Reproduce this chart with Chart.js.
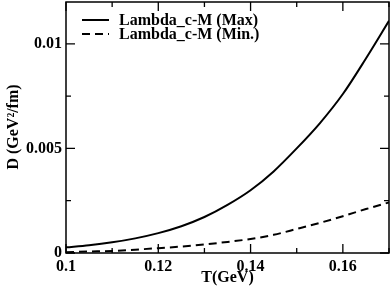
<!DOCTYPE html>
<html>
<head>
<meta charset="utf-8">
<script src="https://cdn.jsdelivr.net/npm/chart.js@4.4.1/dist/chart.umd.min.js"></script>
<style>
  html, body { margin: 0; padding: 0; background: #fff; }
  .chart-wrapper { width: 391px; height: 286px; }
</style>
</head>
<body>
<div class="chart-wrapper"><canvas id="chart"></canvas></div>
<script>
// temperatures (GeV)
const temps = [0.10, 0.105, 0.11, 0.115, 0.12, 0.125, 0.13, 0.135, 0.14, 0.145, 0.15, 0.155, 0.16, 0.165, 0.17];
// D (GeV^2/fm)
const maxValues = [0.00027, 0.00037, 0.00051, 0.0007, 0.00095, 0.00128, 0.00172, 0.0023, 0.003, 0.0039, 0.005, 0.0062, 0.0076, 0.0093, 0.0111];
const minValues = [0.00004, 0.00007, 0.0001, 0.00016, 0.00023, 0.00031, 0.00041, 0.00053, 0.00067, 0.00087, 0.00115, 0.00144, 0.00176, 0.0021, 0.00242];
const seriesLabels = ['Lambda_c-M (Max)', 'Lambda_c-M (Min.)'];
const xTickLabels = [0.1, 0.12, 0.14, 0.16];
const yTickLabels = [0, 0.005, 0.01];

const FONT = 'bold 16px "Liberation Serif", "DejaVu Serif", serif';

// frame, inward ticks on all four sides, legend, axis titles
const framePlugin = {
  id: 'frame',
  afterDraw(chart) {
    const { ctx, chartArea: a, scales } = chart;
    ctx.save();
    ctx.strokeStyle = '#000';
    ctx.lineWidth = 1.5;
    ctx.strokeRect(a.left, a.top, a.right - a.left, a.bottom - a.top);

    ctx.lineWidth = 1.3;
    ctx.beginPath();
    for (let i = 0; i <= 7; i++) {
      const v = 0.1 + i * 0.01;
      const px = scales.x.getPixelForValue(v);
      const len = i % 2 === 0 ? 9 : 5;
      ctx.moveTo(px, a.bottom); ctx.lineTo(px, a.bottom - len);
      ctx.moveTo(px, a.top); ctx.lineTo(px, a.top + len);
    }
    for (let i = 0; i <= 4; i++) {
      const v = i * 0.0025;
      const py = scales.y.getPixelForValue(v);
      const len = i % 2 === 0 ? 9 : 5;
      ctx.moveTo(a.left, py); ctx.lineTo(a.left + len, py);
      ctx.moveTo(a.right, py); ctx.lineTo(a.right - len, py);
    }
    ctx.stroke();

    // legend
    ctx.font = FONT;
    ctx.fillStyle = '#000';
    ctx.textBaseline = 'middle';
    chart.data.datasets.forEach((ds, i) => {
      const y = 20 + i * 14;
      ctx.lineWidth = 2;
      ctx.setLineDash(ds.borderDash || []);
      ctx.beginPath();
      ctx.moveTo(82, y); ctx.lineTo(109, y);
      ctx.stroke();
      ctx.setLineDash([]);
      ctx.fillText(ds.label, 119, y + 1);
    });

    // axis titles
    ctx.textAlign = 'center';
    ctx.fillText('T(GeV)', (a.left + a.right) / 2, 278);
    ctx.translate(14, 127);
    ctx.rotate(-Math.PI / 2);
    ctx.fillText('D (GeV\u00B2/fm)', 0, 0);
    ctx.restore();
  }
};

const near = (v, list) => list.some(t => Math.abs(t - v) < 1e-9);

new Chart(document.getElementById('chart'), {
  type: 'line',
  data: {
    datasets: [
      {
        label: seriesLabels[0],
        data: temps.map((t, i) => ({ x: t, y: maxValues[i] })),
        borderColor: '#000',
        borderWidth: 2,
        pointRadius: 0,
        cubicInterpolationMode: 'monotone',
        fill: false
      },
      {
        label: seriesLabels[1],
        data: temps.map((t, i) => ({ x: t, y: minValues[i] })),
        borderColor: '#000',
        borderWidth: 2,
        borderDash: [8, 5],
        pointRadius: 0,
        cubicInterpolationMode: 'monotone',
        fill: false
      }
    ]
  },
  options: {
    responsive: true,
    maintainAspectRatio: false,
    animation: false,
    layout: { padding: { top: 2, right: 2, left: 0, bottom: 0 } },
    plugins: {
      legend: { display: false },
      tooltip: { enabled: false }
    },
    scales: {
      x: {
        type: 'linear',
        min: 0.1,
        max: 0.17,
        border: { display: false },
        grid: { display: false, drawTicks: false },
        afterFit: s => { s.height = 33; s.paddingLeft = 0; s.paddingRight = 0; },
        ticks: {
          stepSize: 0.01,
          padding: 4,
          color: '#000',
          maxRotation: 0,
          autoSkip: false,
          font: { family: '"Liberation Serif", serif', size: 16, weight: 'bold' },
          callback: v => near(v, xTickLabels) ? String(+v.toFixed(2)) : ''
        }
      },
      y: {
        min: 0,
        max: 0.012,
        border: { display: false },
        grid: { display: false, drawTicks: false },
        afterFit: s => { s.width = 66; s.paddingTop = 0; s.paddingBottom = 0; },
        ticks: {
          stepSize: 0.0025,
          padding: 4,
          color: '#000',
          autoSkip: false,
          font: { family: '"Liberation Serif", serif', size: 16, weight: 'bold' },
          callback: v => near(v, yTickLabels) ? String(+v.toFixed(3)) : ''
        }
      }
    }
  },
  plugins: [framePlugin]
});
</script>
</body>
</html>
